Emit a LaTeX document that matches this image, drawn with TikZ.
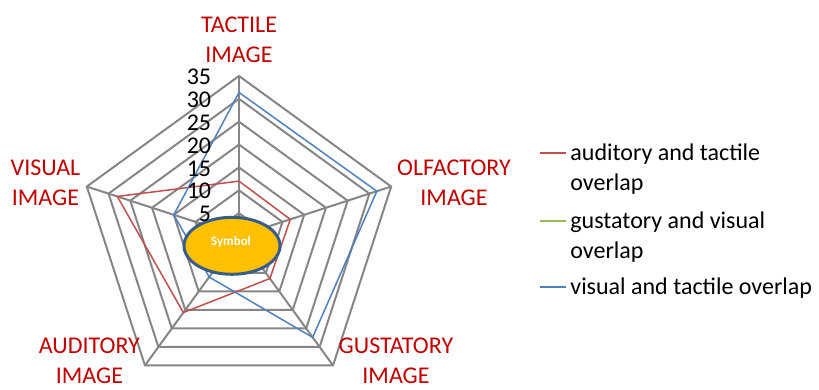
\documentclass[tikz,border=0pt]{standalone}
\usepackage{fontspec}
\setmainfont{Carlito}
\usetikzlibrary{positioning}
\definecolor{gridgray}{RGB}{134,134,134}
\definecolor{axisred}{RGB}{192,0,0}
\definecolor{serred}{RGB}{192,80,77}
\definecolor{sergreen}{RGB}{155,187,89}
\definecolor{serblue}{RGB}{79,129,189}
\definecolor{symfill}{RGB}{255,192,0}
\definecolor{symedge}{RGB}{56,93,138}
\newcommand{\ru}{4.5714}

\begin{document}
\begin{tikzpicture}[x=0.5pt,y=0.5pt,
    grid/.style={draw=gridgray,line width=1pt,line join=miter},
    series/.style={line width=0.75pt,line join=miter},
    axislbl/.style={text=axisred,font=\fontsize{12}{15}\selectfont,align=center,anchor=base,inner sep=0pt},
    ticklbl/.style={font=\fontsize{12}{15}\selectfont,anchor=east,inner sep=0pt},
    legendlbl/.style={font=\fontsize{12}{15}\selectfont,align=left,anchor=base west,inner sep=0pt}]
    \useasboundingbox (-239,-154) rectangle (580,236);
    % web
    \foreach \r in {5,10,...,35}
        \draw[grid] (90:{\r*\ru}) -- (18:{\r*\ru}) -- (-54:{\r*\ru}) -- (-126:{\r*\ru}) -- (162:{\r*\ru}) -- cycle;
    \foreach \a in {90,18,-54,-126,162}
        \draw[grid] (0,0) -- (\a:{35*\ru});
    % series
    \draw[series,draw=serred] (90:{12*\ru}) -- (18:{11.8*\ru}) -- (-54:{11.5*\ru}) -- (-126:{20.7*\ru}) -- (162:{28*\ru}) -- cycle;
    \draw[series,draw=serblue] (90:{31.4*\ru}) -- (18:{31.7*\ru}) -- (-54:{27.4*\ru}) -- (-126:{11.1*\ru}) -- (162:{15*\ru}) -- cycle;
    % symbol
    \draw[draw=symedge,line width=1.5pt,fill=symfill] (-7,-9.8) ellipse [x radius=48,y radius=28.5];
    \node[text=white,font=\fontsize{6.5}{7}\selectfont\bfseries,inner sep=0pt] (symbol) at (-8,-6.3) {Symbol};
    % tick labels
    \foreach \v in {5,10,...,35}
        \node[ticklbl] (tick\v) at (-27.5,{\v*\ru-1}) {\v};
    % axis labels (base = last line)
    \node[axislbl] (tactile) at (0,173.3) {TACTILE\\IMAGE};
    \node[axislbl] (olfactory) at (215,30) {OLFACTORY\\IMAGE};
    \node[axislbl] (gustatory) at (157,-148) {GUSTATORY\\IMAGE};
    \node[axislbl] (auditory) at (-149.6,-148) {AUDITORY\\IMAGE};
    \node[axislbl] (visual) at (-193.5,30) {VISUAL\\IMAGE};
    % legend
    \node[legendlbl] (legaud) at (331,45.3) {auditory and tactile\\overlap};
    \node[legendlbl] (leggus) at (331,-22.1) {gustatory and visual\\overlap};
    \node[legendlbl] (legvis) at (331,-58.7) {visual and tactile overlap};
    \draw[draw=serred,line width=1pt] ([xshift=-2pt,yshift=18.7pt]legaud.base west) -- ++(-26,0);
    \draw[draw=sergreen,line width=1pt] ([xshift=-2pt,yshift=18.7pt]leggus.base west) -- ++(-26,0);
    \draw[draw=serblue,line width=1pt] ([xshift=-2pt,yshift=3.7pt]legvis.base west) -- ++(-26,0);
\end{tikzpicture}
\end{document}
